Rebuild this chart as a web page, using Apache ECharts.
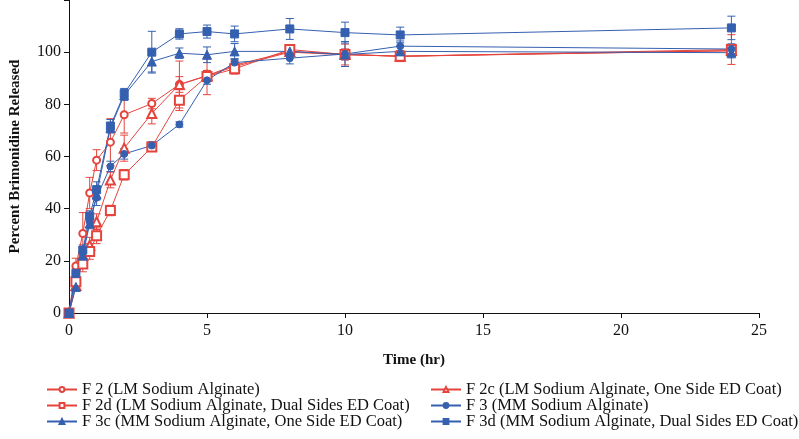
<!DOCTYPE html>
<html>
<head>
<meta charset="utf-8">
<script src="https://cdn.jsdelivr.net/npm/echarts@6/dist/echarts.min.js"></script>
<style>
  html, body { margin: 0; padding: 0; background: #fff; }
  #chart { width: 799px; height: 439px; }
</style>
</head>
<body>
<div id="chart"></div>
<script>
// 时间点 (hr)
var times = [0, 0.25, 0.5, 0.75, 1, 1.5, 2, 3, 4, 5, 6, 8, 10, 12, 24];

// 释放百分比
var f2  = [0, 18, 30.5, 46, 58.6, 65.5, 76, 80.3, 87.6, 90.9, 94.5, 100, 99, 98.5, 100.5];
var f2c = [0, 10.5, 22, 26, 35, 51, 63.2, 76.5, 87.6, 91, 95, 100.3, 99.2, 98.4, 100.6];
var f2d = [0, 12, 18.8, 23.6, 29.6, 39.3, 53, 63.6, 81.6, 90.7, 93.6, 101, 99.1, 98.4, 101];
var f3  = [0, 15, 23.5, 35, 44.2, 56.2, 61, 64.2, 72.3, 89.2, 96, 97.7, 99.3, 102.3, 101.2];
var f3c = [0, 10, 22, 34.3, 45.4, 71, 83.5, 96.4, 99.6, 99, 100.3, 100.3, 99.1, 100.3, 99.8];
var f3d = [0, 15.2, 24.1, 37.2, 47.3, 71.7, 84.1, 100, 107, 107.9, 107, 108.9, 107.5, 106.6, 109.3];

// 误差 (±)
var e2  = [0, 3, 8, 6, 4, 9, 7, 2, 3, 2, 2, 1.5, 2, 2, 2];
var e2c = [0, 2, 3, 3, 3, 3, 5, 4, 9, 2, 2, 1.5, 2, 2, 2];
var e2d = [0, 2, 3, 3, 3, 2, 2, 1.5, 4, 7, 2, 1.5, 4, 2, 5.7];
var e3  = [0, 2, 2, 2, 3, 2, 2, 1.5, 1, 1.5, 1.5, 2.2, 4.8, 2, 2];
var e3c = [0, 1, 2, 2, 2, 2, 2, 4, 2, 3, 3, 2, 2, 2, 2];
var e3d = [0, 2, 2, 2, 3, 2.5, 2, 8, 2, 2.5, 3, 4, 4, 3, 4.5];

var names = [
    'F 2 (LM Sodium Alginate)',
    'F 2c (LM Sodium Alginate, One Side ED Coat)',
    'F 2d (LM Sodium Alginate, Dual Sides ED Coat)',
    'F 3 (MM Sodium Alginate)',
    'F 3c (MM Sodium Alginate, One Side ED Coat)',
    'F 3d (MM Sodium Alginate, Dual Sides ED Coat)'
];

var RED = '#E5443D';
var BLUE = '#3560B0';
var FONT = '"Liberation Serif", "Times New Roman", serif';

var defs = [
    { name: names[0], data: f2,  err: e2,  color: RED,  symbol: 'emptyCircle',   size: 7 },
    { name: names[1], data: f2c, err: e2c, color: RED,  symbol: 'emptyTriangle', size: 9 },
    { name: names[2], data: f2d, err: e2d, color: RED,  symbol: 'emptyRect',     size: 9 },
    { name: names[3], data: f3,  err: e3,  color: BLUE, symbol: 'circle',        size: 7 },
    { name: names[4], data: f3c, err: e3c, color: BLUE, symbol: 'triangle',      size: 9 },
    { name: names[5], data: f3d, err: e3d, color: BLUE, symbol: 'rect',          size: 8 }
];

function pairs(arr) {
    return times.map(function (t, i) { return [t, arr[i]]; });
}

function errData(vals, errs) {
    return times.map(function (t, i) { return [t, vals[i] - errs[i], vals[i] + errs[i]]; });
}

function errRender(color) {
    return function (params, api) {
        var lo = api.coord([api.value(0), api.value(1)]);
        var hi = api.coord([api.value(0), api.value(2)]);
        var w = 4;
        var st = { stroke: color, lineWidth: 1 };
        return {
            type: 'group',
            children: [
                { type: 'line', shape: { x1: lo[0], y1: lo[1], x2: hi[0], y2: hi[1] }, style: st },
                { type: 'line', shape: { x1: lo[0] - w, y1: lo[1], x2: lo[0] + w, y2: lo[1] }, style: st },
                { type: 'line', shape: { x1: hi[0] - w, y1: hi[1], x2: hi[0] + w, y2: hi[1] }, style: st }
            ]
        };
    };
}

var series = [];
defs.forEach(function (d) {
    series.push({
        type: 'custom',
        name: d.name + ' err',
        renderItem: errRender(d.color),
        data: errData(d.data, d.err),
        encode: { x: 0, y: [1, 2] },
        silent: true,
        z: 1
    });
});
defs.forEach(function (d) {
    series.push({
        type: 'line',
        name: d.name,
        data: pairs(d.data),
        symbol: d.symbol,
        symbolSize: d.size,
        color: d.color,
        lineStyle: { width: 1, color: d.color },
        itemStyle: { color: d.color, borderColor: d.color, borderWidth: 1 },
        z: 3
    });
});

// 图例: 两列三行
var legendText = { fontFamily: FONT, fontSize: 16.5, color: '#111' };
var legendPos = [[46, 381], [430, 381], [46, 397], [430, 397], [46, 413], [430, 413]];
var legends = names.map(function (n, i) {
    return {
        data: [n],
        left: legendPos[i][0],
        top: legendPos[i][1],
        padding: 0,
        itemWidth: 30,
        itemHeight: 6,
        itemGap: 6,
        textStyle: legendText
    };
});

var dom = document.getElementById('chart');
var chart = echarts.init(dom, null, { renderer: 'canvas' });
var option = {
    animation: false,
    backgroundColor: '#fff',
    legend: legends,
    grid: {
        left: 66,
        right: 40,
        top: -3,
        bottom: 126
    },
    xAxis: {
        type: 'value',
        min: 0,
        max: 25,
        interval: 5,
        name: 'Time (hr)',
        nameLocation: 'middle',
        nameGap: 40,
        nameTextStyle: { fontFamily: FONT, fontSize: 15, fontWeight: 'bold', color: '#111' },
        axisLine: { lineStyle: { color: '#111', width: 1 } },
        axisTick: { length: 5, lineStyle: { color: '#111' } },
        axisLabel: { fontFamily: FONT, fontSize: 16, color: '#111', margin: 10 },
        splitLine: { show: false }
    },
    yAxis: {
        type: 'value',
        min: 0,
        max: 120,
        interval: 20,
        name: 'Percent Brimonidine Released',
        nameLocation: 'middle',
        nameGap: 46,
        nameTextStyle: { fontFamily: FONT, fontSize: 15, fontWeight: 'bold', color: '#111' },
        axisLine: { show: true, lineStyle: { color: '#111', width: 1 } },
        axisTick: { show: true, length: 5, lineStyle: { color: '#111' } },
        axisLabel: {
            fontFamily: FONT, fontSize: 16, color: '#111', margin: 8,
            formatter: function (v) { return v > 100 ? '' : v; }
        },
        splitLine: { show: false }
    },
    series: series
};
if (option && typeof option === 'object') {
    chart.setOption(option, true);
}
</script>
</body>
</html>
